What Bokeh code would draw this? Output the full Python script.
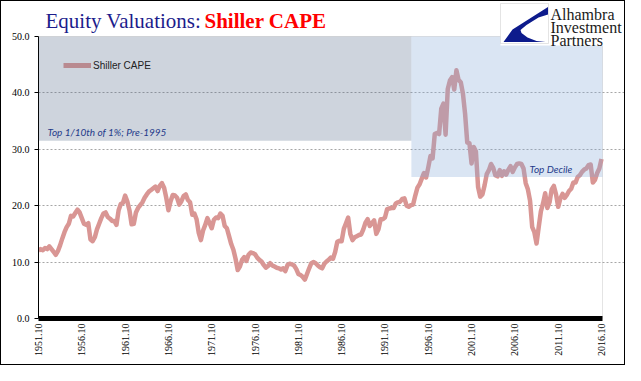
import numpy as np
from bokeh.plotting import figure
from bokeh.models import (BoxAnnotation, Label, PolyAnnotation, FixedTicker,
                          Legend, LegendItem, NumeralTickFormatter)
from bokeh.embed import file_html
from bokeh.resources import INLINE

# ---------------- data ----------------
start_year = 1951.75      # 1951.10 (October 1951)
step_years = 0.25         # quarterly readings
cape = [
    12.0,
    12.3, 12.1, 12.5, 12.3,   # 1952
    12.8, 12.3, 11.8, 11.3,   # 1953
    12.0, 13.0, 14.2, 15.3,   # 1954
    16.2, 16.8, 18.2, 18.1,   # 1955
    18.7, 19.3, 18.8, 17.8,   # 1956
    16.8, 16.6, 16.9, 14.0,   # 1957
    13.7, 14.4, 15.8, 16.8,   # 1958
    17.8, 18.6, 18.8, 18.0,   # 1959
    17.7, 17.3, 17.3, 16.6,   # 1960
    19.2, 20.3, 20.5, 21.8,   # 1961
    20.8, 19.2, 16.7, 16.8,   # 1962
    18.8, 19.6, 20.1, 20.6,   # 1963
    21.4, 22.0, 22.5, 22.8,   # 1964
    23.1, 23.4, 22.6, 23.5,   # 1965
    24.0, 23.2, 21.4, 19.2,   # 1966
    20.8, 21.9, 21.8, 21.4,   # 1967
    20.2, 20.8, 21.7, 22.0,   # 1968
    21.0, 20.6, 18.4, 18.6,   # 1969
    17.6, 15.2, 13.9, 15.6,   # 1970
    16.6, 17.8, 16.9, 16.0,   # 1971
    17.5, 17.9, 17.8, 18.6,   # 1972
    18.2, 16.4, 16.0, 14.6,   # 1973
    13.2, 12.2, 10.6, 8.6,    # 1974
    9.2, 10.4, 10.9, 10.2,    # 1975
    11.3, 11.7, 11.6, 11.4,   # 1976
    10.8, 10.4, 10.1, 9.5,    # 1977
    9.0, 9.3, 9.8, 9.4,       # 1978
    9.2, 9.0, 8.9, 8.7,       # 1979
    8.9, 8.4, 9.5, 9.7,       # 1980
    9.6, 9.4, 8.8, 7.9,       # 1981
    7.7, 7.4, 6.9, 7.9,       # 1982
    8.9, 9.8, 10.0, 9.8,      # 1983
    9.4, 9.1, 8.9, 9.7,       # 1984
    10.1, 10.4, 10.8, 10.6,   # 1985
    11.8, 13.6, 13.8, 13.7,   # 1986
    15.9, 16.9, 17.9, 15.0,   # 1987
    13.9, 14.4, 14.6, 14.8,   # 1988
    14.9, 15.8, 17.0, 17.6,   # 1989
    16.4, 16.9, 17.4, 15.0,   # 1990
    15.8, 17.6, 17.6, 17.9,   # 1991
    19.4, 19.5, 19.6, 19.6,   # 1992
    20.4, 20.6, 20.7, 21.2,   # 1993
    21.3, 20.0, 19.8, 20.1,   # 1994
    20.2, 21.8, 23.2, 23.8,   # 1995
    24.8, 25.8, 25.0, 26.8,   # 1996
    28.8, 28.4, 32.7, 32.9,   # 1997
    32.7, 37.2, 38.1, 32.6,   # 1998
    40.7, 42.2, 42.8, 40.6,   # 1999
    44.0, 42.3, 41.9, 39.9,   # 2000
    36.3, 31.2, 31.1, 27.5,   # 2001
    30.4, 29.6, 23.3, 21.6,   # 2002
    22.0, 23.6, 25.6, 26.3,   # 2003
    27.4, 26.7, 25.4, 25.2,   # 2004
    26.3, 25.3, 26.1, 25.5,   # 2005
    26.4, 27.0, 26.0, 26.8,   # 2006
    27.4, 27.5, 27.4, 26.6,   # 2007
    24.0, 22.9, 20.9, 16.2,   # 2008
    15.3, 13.3, 16.2, 19.0,   # 2009
    20.4, 22.2, 19.6, 20.6,   # 2010
    22.9, 23.5, 22.0, 19.8,   # 2011
    21.3, 22.1, 21.4, 21.9,   # 2012
    22.6, 23.0, 24.1, 24.1,   # 2013
    25.1, 25.4, 26.0, 26.4,   # 2014
    26.6, 27.2, 27.3, 24.1,   # 2015
    24.6, 25.8, 26.6, 28.3,   # 2016
]
tick_years = [1951.75, 1956.75, 1961.75, 1966.75, 1971.75, 1976.75, 1981.75,
              1986.75, 1991.75, 1996.75, 2001.75, 2006.75, 2011.75, 2016.75]
tick_labels = ["1951.10", "1956.10", "1961.10", "1966.10", "1971.10", "1976.10",
               "1981.10", "1986.10", "1991.10", "1996.10", "2001.10", "2006.10",
               "2011.10", "2016.10"]
y_ticks = [0, 10, 20, 30, 40, 50]
top_tenth_level = 31.5     # "Top 1/10th of 1%; Pre-1995"
top_decile_level = 25.1    # "Top Decile"
regime_split = 1994.8      # Pre-1995 boundary

X0, X1 = 1951.75, 2016.865   # plotted x extent
Y0, Y1 = 0.0, 50.0           # plotted y extent

years = start_year + step_years * np.arange(len(cape))

# reference-pixel geometry of the plot area: left 45, right 609, top 43, bottom 325
FL, FR, FT, FB = 45, 609, 43, 325
XPP = (X1 - X0) / (FR - FL)
YPP = (Y1 - Y0) / (FB - FT)
# the frame is extended up to the canvas top (ref y=8) and to the canvas right
# (ref x=633) so that title and logo can be drawn inside it
XR_END = X0 + (633 - FL) * XPP
YR_END = Y1 + (FT - 8) * YPP
TXT_SHIFT = 4  # px correction for alphabetic-baseline labels


def px_x(px):
    return X0 + (px - FL) * XPP


def px_y(py):
    return Y1 - (py - FT) * YPP


def txt_y(py):
    return px_y(py - TXT_SHIFT)


p = figure(width=625, height=365, output_backend="svg", toolbar_location=None,
           x_range=(X0, XR_END), y_range=(Y0, YR_END),
           min_border_left=37, min_border_right=0, min_border_top=0,
           min_border_bottom=48)
p.styles = {"border": "1px solid black"}
p.background_fill_color = "white"
p.border_fill_color = "white"
p.outline_line_color = None

# grid
p.xgrid.visible = False
p.ygrid.ticker = FixedTicker(ticks=[10, 20, 30, 40])
p.ygrid.grid_line_color = "#a6a6a6"
p.ygrid.grid_line_dash = "2 2"
p.ygrid.grid_line_width = 1
p.ygrid.bounds = (X0, X1)

# y axis
p.yaxis.ticker = FixedTicker(ticks=y_ticks)
p.yaxis.formatter = NumeralTickFormatter(format="0.0")
p.yaxis.bounds = (Y0, Y1)
p.yaxis.axis_line_color = "black"
p.yaxis.major_tick_out = 4
p.yaxis.major_tick_in = 0
p.yaxis.minor_tick_line_color = None
p.yaxis.major_label_standoff = 5
p.yaxis.major_label_text_font = "Liberation Serif"
p.yaxis.major_label_text_font_size = "10px"
p.yaxis.major_label_text_color = "black"

# x axis
p.xaxis.ticker = FixedTicker(ticks=tick_years)
p.xaxis.major_label_overrides = dict(zip(tick_years, tick_labels))
p.xaxis.major_label_orientation = np.pi / 2
p.xaxis.bounds = (X0, X1)
p.xaxis.axis_line_color = "black"
p.xaxis.axis_line_width = 5
p.xaxis.major_tick_out = 0
p.xaxis.major_tick_in = 0
p.xaxis.minor_tick_line_color = None
p.xaxis.major_label_standoff = 5
p.xaxis.major_label_text_font = "Liberation Serif"
p.xaxis.major_label_text_font_size = "10px"
p.xaxis.major_label_text_color = "black"

# plot-area outline (top and right edges visible)
p.add_layout(BoxAnnotation(left=X0, right=X1, bottom=Y0, top=Y1, fill_alpha=0,
                           line_color="#a6a6a6", line_width=1, level="underlay"))

# series
p.line(years, cape, line_color="#d99694", line_width=4.5, line_join="round")

# shaded regimes (drawn over the line, semi-transparent)
p.add_layout(BoxAnnotation(left=X0, right=regime_split, bottom=top_tenth_level, top=Y1,
                           fill_color=(80, 101, 134), fill_alpha=0.28, line_alpha=0))
p.add_layout(BoxAnnotation(left=regime_split, right=X1, bottom=top_decile_level, top=Y1,
                           fill_color=(132, 168, 215), fill_alpha=0.3, line_alpha=0))

# legend
dummy = p.line([np.nan, np.nan], [np.nan, np.nan], line_color="#b98a90", line_width=5)
legend = Legend(items=[LegendItem(label="Shiller CAPE", renderers=[dummy])],
                location=(25, 247), background_fill_alpha=0, border_line_alpha=0,
                padding=0, margin=0, glyph_width=28, glyph_height=12, label_height=12,
                label_standoff=2, label_text_font="Liberation Sans",
                label_text_font_size="10px", label_text_color="#222222")
p.add_layout(legend)

# in-chart notes
p.add_layout(Label(x=px_x(54), y=txt_y(142), text="Top 1/10th of 1%; Pre-1995",
                   text_font="Lato", text_font_style="italic", text_font_size="10px",
                   text_color="#1f3a8a", text_baseline="alphabetic"))
p.add_layout(Label(x=px_x(536), y=txt_y(179.5), text="Top Decile",
                   text_font="Lato", text_font_style="italic", text_font_size="10px",
                   text_color="#1f3a8a", text_baseline="alphabetic"))

# title
p.add_layout(Label(x=px_x(52), y=txt_y(31.5), text="Equity Valuations:",
                   text_font="Liberation Serif", text_font_size="21px",
                   text_color="#1c1c8c", text_baseline="alphabetic"))
p.add_layout(Label(x=px_x(211), y=txt_y(31.5), text="Shiller CAPE",
                   text_font="Liberation Serif", text_font_style="bold",
                   text_font_size="21px", text_color="#ff0000",
                   text_baseline="alphabetic"))

# logo
p.add_layout(BoxAnnotation(left=px_x(507), right=px_x(631), top=px_y(8), bottom=px_y(52),
                           fill_color="white", fill_alpha=1, line_alpha=0))
p.add_layout(BoxAnnotation(left=px_x(507), right=px_x(555), top=px_y(10), bottom=px_y(50),
                           fill_color="white", fill_alpha=1, line_color="#a6a6a6",
                           line_width=1))
logo_px = [(554.5, 13.5), (519, 36), (510, 48.5), (552, 48.5), (543, 47.5),
           (534, 44), (528, 39.5), (527, 36.5), (533, 31.5), (545, 24), (554.5, 21)]
p.add_layout(PolyAnnotation(xs=[px_x(a) for a, b in logo_px],
                            ys=[px_y(b) for a, b in logo_px],
                            fill_color="#0d1b8c", fill_alpha=1, line_alpha=0))
for txt, base in [("Alhambra", 25), ("Investment", 38), ("Partners", 50.5)]:
    p.add_layout(Label(x=px_x(557), y=txt_y(base), text=txt,
                       text_font="Liberation Serif", text_font_size="16px",
                       text_color="#1a1a1a", text_baseline="alphabetic"))

open("out.html", "w").write(file_html(p, INLINE))
